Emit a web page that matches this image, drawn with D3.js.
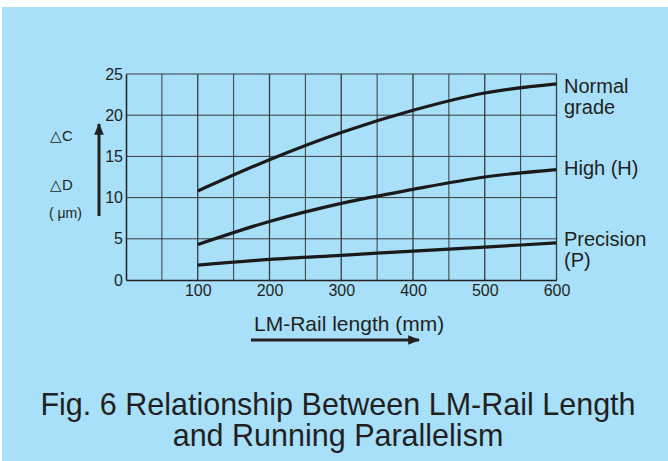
<!DOCTYPE html>
<html>
<head>
<meta charset="utf-8">
<script src="https://cdn.jsdelivr.net/npm/d3@7"></script>
<style>
  body { margin: 0; background: #fff; }
  text { font-family: "Liberation Sans", Arial, sans-serif; fill: #231f20; }
</style>
</head>
<body>
<div id="chart"></div>
<script>
// data
var lengths = [100, 200, 300, 400, 500, 600];
var normalGrade = [10.8, 14.6, 17.9, 20.6, 22.7, 23.8];
var highGrade = [4.3, 7.1, 9.3, 11.0, 12.5, 13.4];
var precisionGrade = [1.8, 2.5, 3.0, 3.5, 4.0, 4.5];
var xTicks = [100, 200, 300, 400, 500, 600];
var yTicks = [0, 5, 10, 15, 20, 25];

var svgWidth = 668;
var svgHeight = 461;

var svg = d3.select("#chart")
  .append("svg")
  .attr("width", svgWidth)
  .attr("height", svgHeight);

// blue panel
svg.append("rect")
  .attr("x", 2).attr("y", 7)
  .attr("width", svgWidth - 2).attr("height", svgHeight - 7)
  .attr("fill", "#a8e0fa");

var x = d3.scaleLinear().domain([0, 600]).range([126, 556.5]);
var y = d3.scaleLinear().domain([0, 25]).range([280, 74]);

var defs = svg.append("defs");
defs.append("marker")
  .attr("id", "head")
  .attr("viewBox", "0 0 10 10")
  .attr("refX", 9).attr("refY", 5)
  .attr("markerWidth", 4).attr("markerHeight", 4)
  .attr("orient", "auto")
  .append("path")
  .attr("d", "M0,1 L10,5 L0,9 z")
  .attr("fill", "#231f20");

// grid
var grid = svg.append("g");
d3.range(50, 601, 50).forEach(function(v) {
  grid.append("line")
    .attr("x1", x(v)).attr("x2", x(v))
    .attr("y1", y(0)).attr("y2", y(25))
    .attr("stroke", "#3a3a3a")
    .attr("stroke-width", v % 100 == 0 ? 1.3 : 1);
});
d3.range(5, 26, 5).forEach(function(v) {
  grid.append("line")
    .attr("x1", x(0)).attr("x2", x(600))
    .attr("y1", y(v)).attr("y2", y(v))
    .attr("stroke", "#3a3a3a")
    .attr("stroke-width", 1);
});

// axes
var bottomAxis = d3.axisBottom(x).tickValues(xTicks).tickSize(0).tickPadding(5);
var leftAxis = d3.axisLeft(y).tickValues(yTicks).tickSize(0).tickPadding(3);

svg.append("g")
  .attr("transform", `translate(0, ${y(0)})`)
  .call(bottomAxis)
  .call(g => g.select(".domain").attr("stroke", "#231f20").attr("stroke-width", 1.5))
  .selectAll("text").style("font-size", "16px").attr("fill", "#231f20");

svg.append("g")
  .attr("transform", `translate(${x(0)}, 0)`)
  .call(leftAxis)
  .call(g => g.select(".domain").attr("stroke", "#231f20").attr("stroke-width", 1.5))
  .selectAll("text").style("font-size", "16px").attr("fill", "#231f20");

// curves
var line = d3.line()
  .x(function(d, i) { return x(lengths[i]); })
  .y(function(d) { return y(d); })
  .curve(d3.curveMonotoneX);

[normalGrade, highGrade, precisionGrade].forEach(function(s) {
  svg.append("path")
    .datum(s)
    .attr("d", line)
    .attr("fill", "none")
    .attr("stroke", "#1a1a1a")
    .attr("stroke-width", 3.2);
});

// curve labels
var labels = [
  {lines: ["Normal", "grade"], y: 93},
  {lines: ["High (H)"], y: 175},
  {lines: ["Precision", "(P)"], y: 246}
];
labels.forEach(function(l) {
  var t = svg.append("text")
    .attr("x", 564).attr("y", l.y)
    .style("font-size", "20px");
  l.lines.forEach(function(s, i) {
    t.append("tspan").attr("x", 564).attr("dy", i == 0 ? 0 : 21).text(s);
  });
});

// y axis label
svg.append("text").attr("x", 50).attr("y", 141).style("font-size", "15px").text("△C");
svg.append("text").attr("x", 50).attr("y", 190).style("font-size", "15px").text("△D");
svg.append("text").attr("x", 49).attr("y", 218).style("font-size", "14px").text("( μm)");
svg.append("line")
  .attr("x1", 99).attr("y1", 216).attr("x2", 99).attr("y2", 124)
  .attr("stroke", "#231f20").attr("stroke-width", 3)
  .attr("marker-end", "url(#head)");

// x axis label
svg.append("text").attr("x", 254).attr("y", 331).style("font-size", "21px").text("LM-Rail length (mm)");
svg.append("line")
  .attr("x1", 251).attr("y1", 340).attr("x2", 419).attr("y2", 340)
  .attr("stroke", "#231f20").attr("stroke-width", 3)
  .attr("marker-end", "url(#head)");

// title
svg.append("text")
  .attr("x", 338).attr("y", 415)
  .attr("text-anchor", "middle")
  .style("font-size", "30.5px")
  .text("Fig. 6 Relationship Between LM-Rail Length");
svg.append("text")
  .attr("x", 338).attr("y", 446)
  .attr("text-anchor", "middle")
  .style("font-size", "30.5px")
  .text("and Running Parallelism");
</script>
</body>
</html>
